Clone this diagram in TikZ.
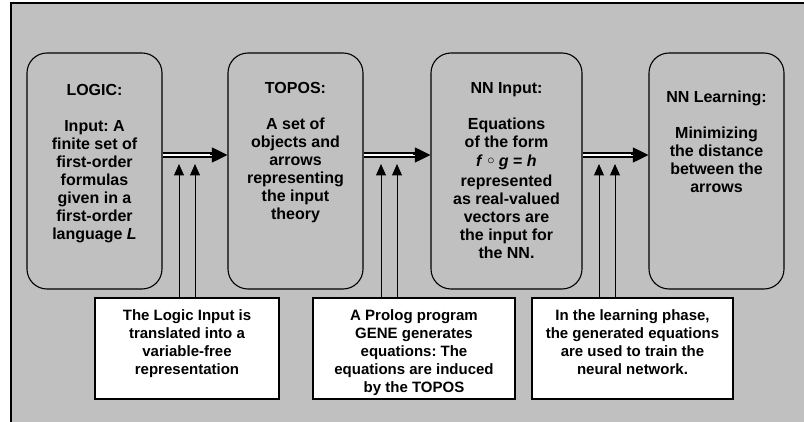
\documentclass[tikz,border=0pt]{standalone}
\usepackage{fontspec}
\setmainfont{Liberation Sans}
\usetikzlibrary{arrows.meta,calc}
\definecolor{panel}{RGB}{192,192,192}
\frenchspacing
\newcommand{\ringop}{\raisebox{2pt}{\fontsize{14}{14}\selectfont$\circ$}}
\begin{document}
\begin{tikzpicture}[x=1pt,y=-1pt,
  stage/.style={draw, line width=1.1pt, rounded corners=20pt, minimum height=236pt, inner sep=0pt},
  stagetext/.style={anchor=north, inner sep=0pt, align=center, font=\bfseries\fontsize{16}{18}\selectfont},
  note/.style={draw, line width=1.1pt, fill=white, minimum height=101pt, inner sep=0pt},
  notetext/.style={anchor=north, inner sep=0pt, align=center, font=\bfseries\fontsize{15}{18}\selectfont},
  dbl/.style={double, double distance=2.7pt, line width=1.3pt, shorten >=14pt},
  bigtip/.style={line width=1pt, -{Triangle[length=15.5pt,width=15pt]}},
  feed/.style={line width=1pt, -{Triangle[length=11.5pt,width=10pt]}}]
\useasboundingbox (0,0) rectangle (804,422);
\clip (0,0) rectangle (804,422);
\fill[white] (0,0) rectangle (804,422);
\draw[line width=1.4pt, fill=panel] (11,3) rectangle (830,440);

% processing stages
\node[stage, minimum width=135pt] (logic) at (94.5,171) {};
\node[stage, minimum width=135pt] (topos) at (295.5,171) {};
\node[stage, minimum width=151pt] (nnin)  at (506.5,171) {};
\node[stage, minimum width=135pt] (nnlearn) at (716.5,171) {};

\node[stagetext] (logicT) at (94.5,84.5) {LOGIC:\\[18pt]Input: A\\finite set of\\first-order\\formulas\\given in a\\first-order\\language \textit{L}};
\node[stagetext] (toposT) at (295.5,82.5) {TOPOS:\\[18pt]A set of\\objects and\\arrows\\representing\\the input\\theory};
\node[stagetext] (nninT) at (506.5,82.5) {NN Input:\\[18pt]Equations\\of the form\\[1pt]\textit{f} \ringop{} \textit{g} = \textit{h}\\[1.5pt]represented\\as real-valued\\vectors are\\the input for\\the NN.};
\node[stagetext] (nnlearnT) at (716.5,90.5) {NN Learning:\\[18pt]Minimizing\\the distance\\between the\\arrows};

% explanatory notes
\node[note, minimum width=184pt] (n1) at (187,348.5) {};
\node[note, minimum width=202pt] (n2) at (414,348.5) {};
\node[note, minimum width=201pt] (n3) at (632.5,348.5) {};

\node[notetext] (n1T) at ([yshift=-12.3pt]n1.north) {The Logic Input is\\translated into a\\variable-free\\representation};
\node[notetext] (n2T) at ([yshift=-12.3pt]n2.north) {A Prolog program\\GENE generates\\equations: The\\equations are induced\\by the TOPOS};
\node[notetext] (n3T) at ([yshift=-12.3pt]n3.north) {In the learning phase,\\the generated equations\\are used to train the\\neural network.};

% stage-to-stage double arrows
\foreach \a/\b in {logic/topos, topos/nnin, nnin/nnlearn}{
  \draw[dbl] ([yshift=16pt]\a.east) -- ([yshift=16pt]\b.west);
  \draw[bigtip] ([yshift=16pt,xshift=-17pt]\b.west) -- ([yshift=16pt]\b.west);
}

% feeding arrows from the notes
\coordinate (f1a) at (179,164);
\coordinate (f1b) at (195,164);
\coordinate (f2a) at (381,164);
\coordinate (f2b) at (397,164);
\coordinate (f3a) at (599,164);
\coordinate (f3b) at (615,164);
\draw[feed] (n1.north -| f1a) -- (f1a);
\draw[feed] (n1.north -| f1b) -- (f1b);
\draw[feed] (n2.north -| f2a) -- (f2a);
\draw[feed] (n2.north -| f2b) -- (f2b);
\draw[feed] (n3.north -| f3a) -- (f3a);
\draw[feed] (n3.north -| f3b) -- (f3b);
\end{tikzpicture}
\end{document}
